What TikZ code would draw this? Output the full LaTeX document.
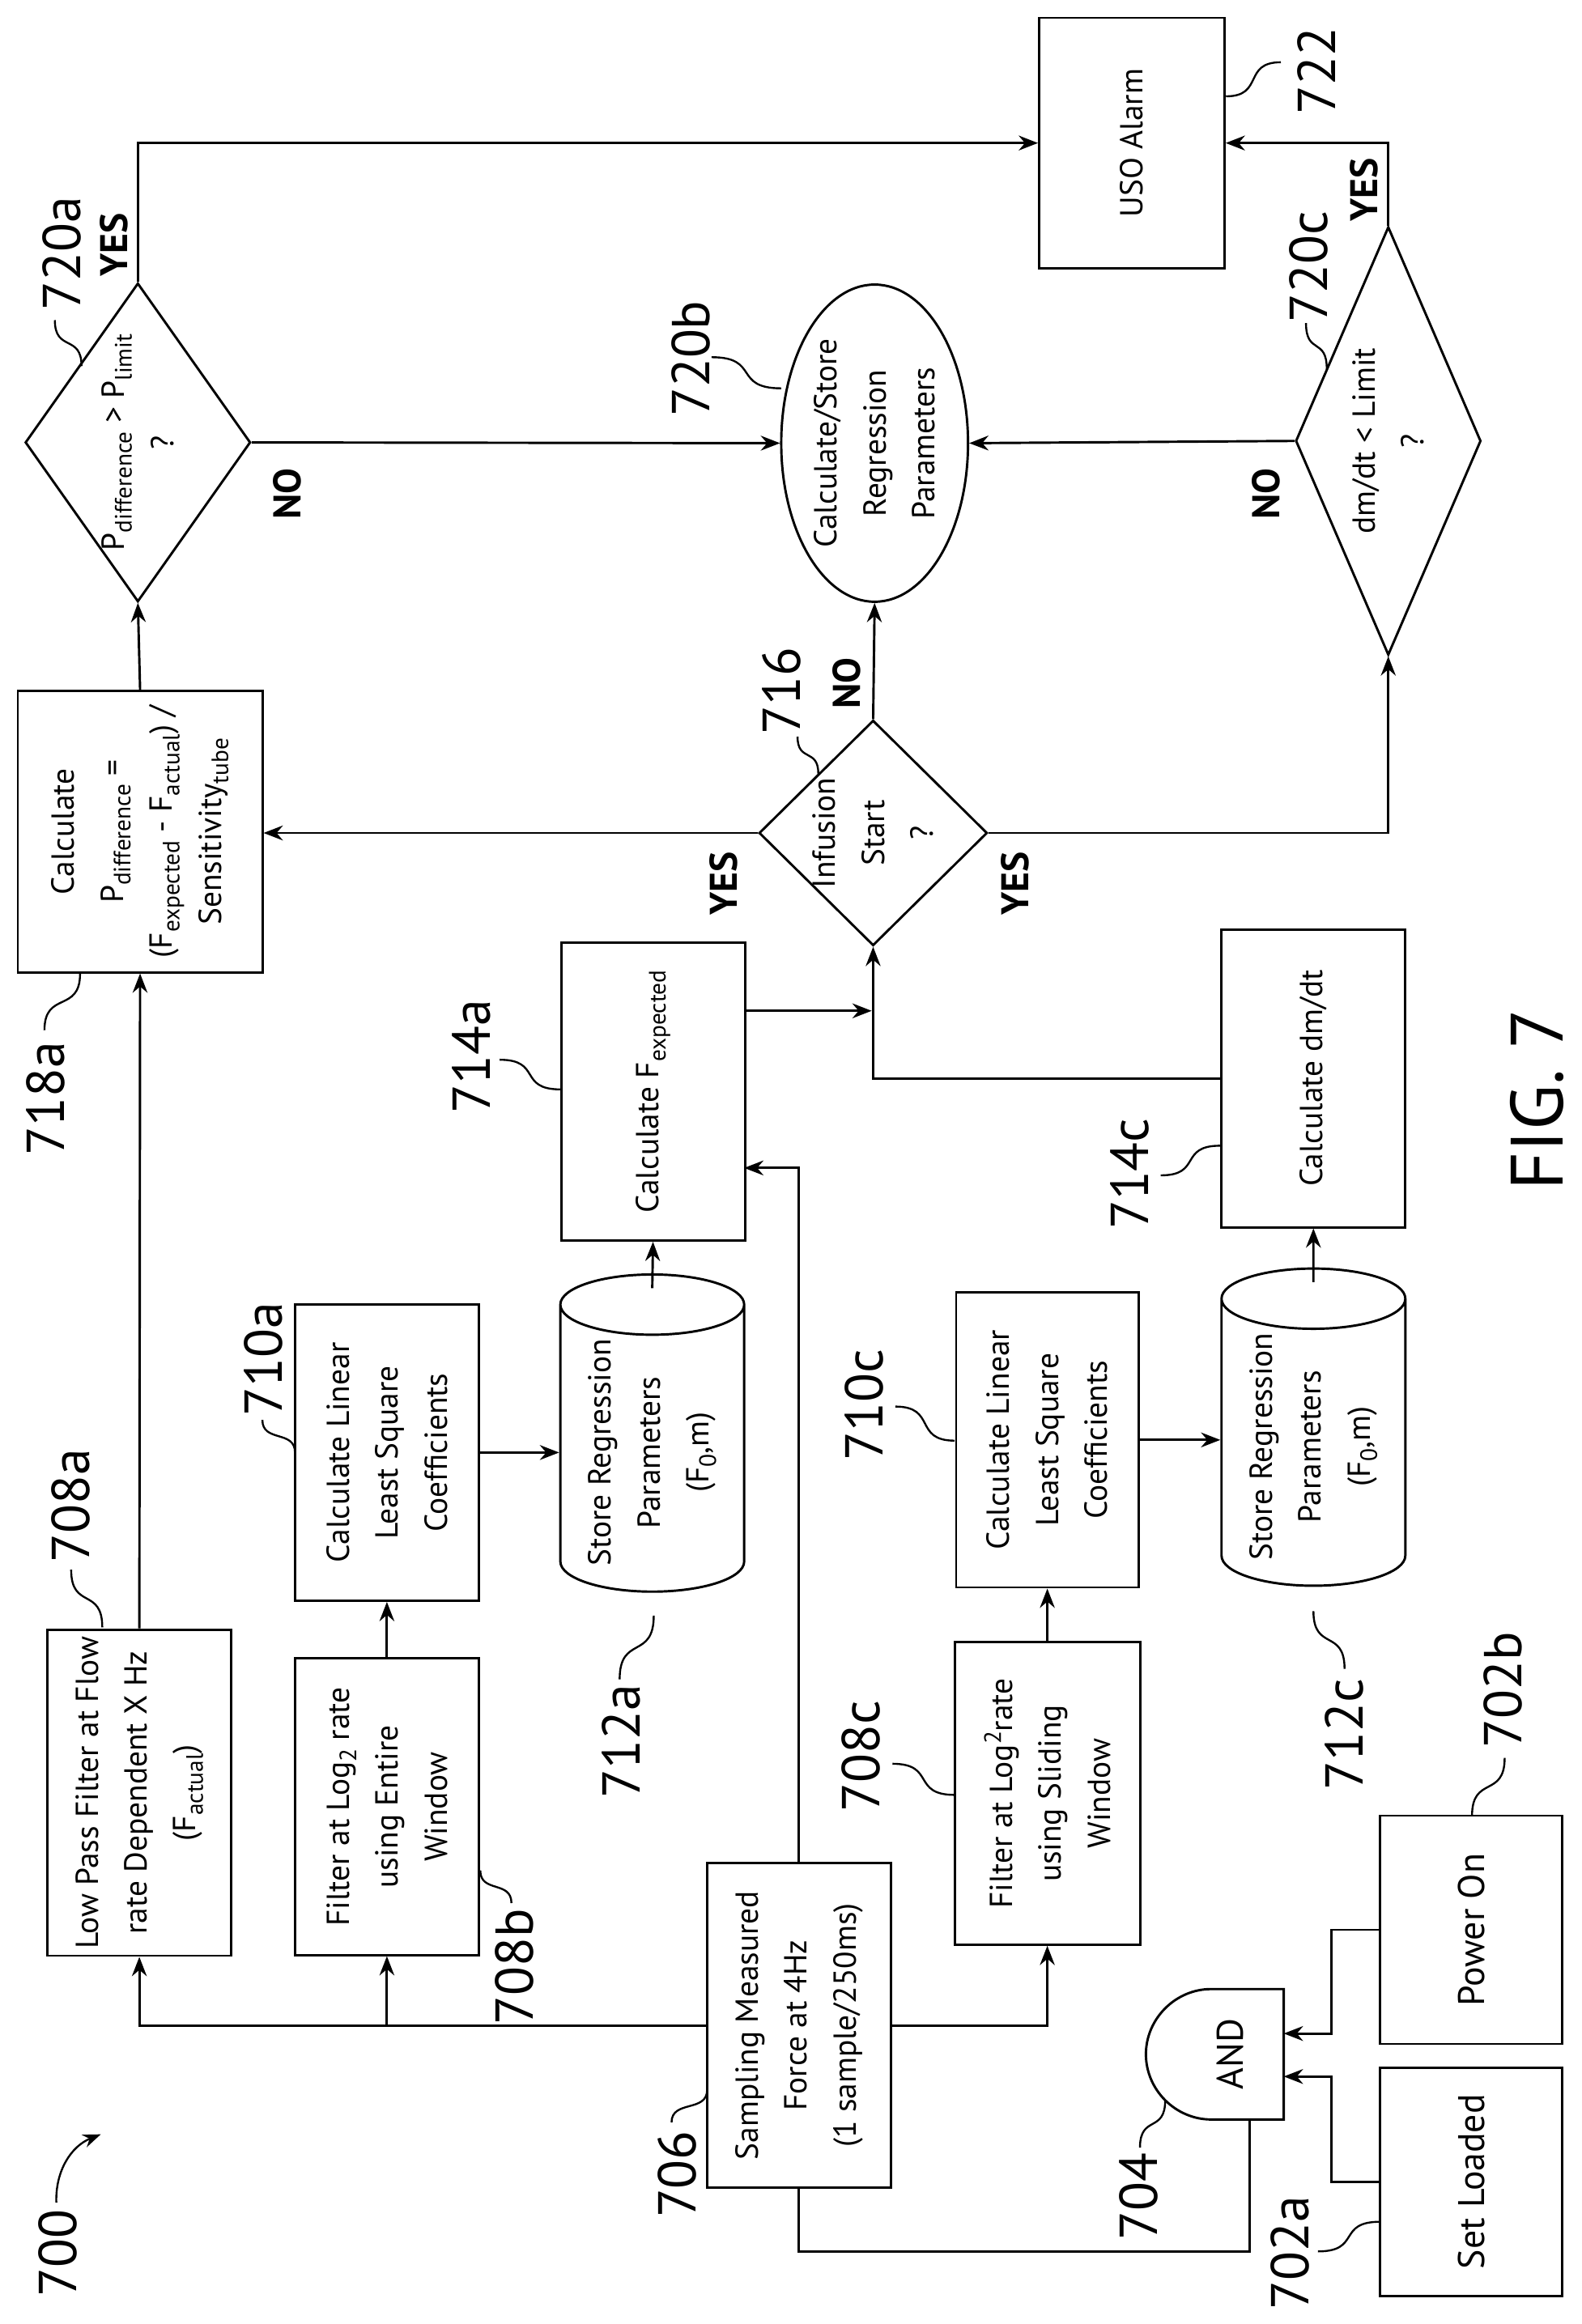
\documentclass[tikz,border=0pt]{standalone}
\usepackage{fontspec}
\setmainfont{PT Sans}
\usetikzlibrary{shapes.geometric,arrows.meta,calc}
\newcommand\dn[1]{\raisebox{-0.45ex}{\fontsize{16}{16}\selectfont #1}}
\newcommand\upx[1]{\raisebox{0.7ex}{\fontsize{16}{16}\selectfont #1}}
\newcommand\bx{\fontsize{21.5}{33}\selectfont}
\newcommand\sqv[2]{\draw[lead] (#1) .. controls ($(#1)!.7!(#1|-#2)$) and ($(#2)!.7!(#2|-#1)$) .. (#2);}
\newcommand\sqh[2]{\draw[lead] (#1) .. controls ($(#1)!.7!(#1-|#2)$) and ($(#2)!.7!(#2-|#1)$) .. (#2);}
\begin{document}
\begin{tikzpicture}[x=1pt,y=-1pt,
  box/.style={draw,line width=1.6pt,rotate=90,font=\bx,align=center,inner sep=2pt},
  cyl/.style={draw,line width=1.6pt,rotate=90,font=\bx,align=center,shape=cylinder,shape aspect=0.45,inner sep=2pt},
  dia/.style={draw,line width=1.6pt,rotate=90,shape=diamond,inner sep=0pt},
  txt/.style={rotate=90,font=\bx,align=center},
  lbl/.style={rotate=90,font=\fontsize{36}{36}\selectfont},
  yn/.style={rotate=90,font=\fontsize{26}{26}\selectfont\bfseries},
  arr/.style={line width=1.6pt,-{Stealth[length=13pt,width=10pt]}},
  ln/.style={line width=1.6pt},
  lead/.style={line width=1.3pt}]
\useasboundingbox (0,0) rectangle (1067,1568);
% boxes
\node[box,minimum width=154,minimum height=123,font=\fontsize{25}{28}\selectfont] (sl) at (992.5,1472) {Set Loaded};
\node[box,minimum width=154,minimum height=123,font=\fontsize{25}{28}\selectfont] (po) at (992.5,1302) {Power On};
\node[box,minimum width=219,minimum height=124] (smp) at (539,1366.5) {Sampling Measured\\Force at 4Hz\\(1 sample/250ms)};
\node[box,minimum width=220,minimum height=124] (lp) at (94,1209.5) {Low Pass Filter at Flow\\rate Dependent X Hz\\(F\dn{actual})};
\node[box,minimum width=200,minimum height=124] (f8b) at (261,1219) {Filter at Log\dn{2} rate\\using Entire\\Window};
\node[box,minimum width=200,minimum height=124] (c10a) at (261,980) {Calculate Linear\\Least Square\\Coefficients};
\node[cyl,minimum width=124,minimum height=206] (st12a) at (440,980) {Store Regression\\Parameters\\(F\dn{0},m)};
\node[box,minimum width=201,minimum height=124] (fe) at (440.5,736.5) {Calculate F\dn{expected}};
\node[box,minimum width=190,minimum height=165] (cp) at (94.5,561) {Calculate\\P\dn{difference} =\\(F\dn{expected} - F\dn{actual}) /\\Sensitivity\dn{tube}};
\node[box,minimum width=204,minimum height=125] (f8c) at (706.5,1210) {Filter at Log\upx{2}rate\\using Sliding\\Window};
\node[box,minimum width=199,minimum height=123] (c10c) at (706.5,971.5) {Calculate Linear\\Least Square\\Coefficients};
\node[cyl,minimum width=124,minimum height=206] (st12c) at (886,976) {Store Regression\\Parameters\\(F\dn{0},m)};
\node[box,minimum width=201,minimum height=124] (dm) at (886,727.5) {Calculate dm/dt};
\node[box,minimum width=169,minimum height=125] (uso) at (763.5,96.5) {USO Alarm};
\node[box,shape=ellipse,minimum width=214,minimum height=126,inner sep=0pt] (e720b) at (590,299) {Calculate/Store\\Regression\\Parameters};
% diamonds
\node[dia,minimum width=152,minimum height=154] (d716) at (589,562) {};
\node[txt] at (d716) {Infusion\\Start\\?};
\node[dia,minimum width=215,minimum height=152] (d720a) at (93,298.5) {};
\node[txt] at (d720a) {P\dn{difference} > P\dn{limit}\\?};
\node[dia,minimum width=289,minimum height=125] (d720c) at (936.5,297.5) {};
\node[txt] at (d720c) {dm/dt < Limit\\?};
% AND gate
\draw[ln] (866,1342) -- (817,1342) .. controls (793,1342) and (773,1362) .. (773,1386) .. controls (773,1410) and (793,1430) .. (817,1430) -- (866,1430) -- cycle;
\node[rotate=90,font=\fontsize{25}{28}\selectfont] (and) at (830,1386) {AND};
\coordinate (andin1) at (866,1401);
\coordinate (andin2) at (866,1372);
\coordinate (andout) at (843,1430);
\coordinate (feIn) at (502,788);
\coordinate (j1) at (588,682);
% connectors
\draw[arr] (sl.north) -- ++(-32,0) |- (andin1);
\draw[arr] (po.north) -- ++(-32,0) |- (andin2);
\draw[ln] (andout) -- ++(0,89) -| (smp.west);
\draw[arr] (smp.north) -| (lp.west);
\draw[arr] (smp.north) -| (f8b.west);
\draw[arr] (smp.south) -| (f8c.west);
\draw[arr] (smp.east) |- (feIn);
\draw[arr] (lp.east) -- (cp.west);
\draw[arr] (f8b.east) -- (c10a.west);
\draw[arr] (c10a.south) -- (c10a.south -| st12a.north);
\draw[arr] ($(st12a.east)+(0,10)$) -- (fe.west);
\draw[arr] (fe.south |- j1) -- (j1);
\draw[arr] (dm.north) -| (d716.west);
\draw[arr] (d716.north) -- (d716.north -| cp.south);
\draw[arr] (d716.south) -| (d720c.west);
\draw[arr] (d716.east) -- (e720b.west);
\draw[arr] (cp.east) -- (d720a.west);
\draw[arr] (d720a.east) |- (uso.north);
\draw[arr] (d720a.south) -- (e720b.north);
\draw[arr] (d720c.north) -- (e720b.south);
\draw[arr] (d720c.east) |- (uso.south);
\draw[arr] (f8c.east) -- (c10c.west);
\draw[arr] (c10c.south) -- (c10c.south -| st12c.north);
\draw[arr] ($(st12c.east)+(0,10)$) -- (dm.west);
% labels
\node[lbl] (l700) at (39,1520) {700};
\coordinate (a700) at (38,1486);
\coordinate (b700) at (68,1440);
\draw[lead,-{Stealth[length=12pt,width=9pt]}] (a700) to[bend left=35] (b700);
\node[lbl] (l708a) at (48,1016) {708a};
\node[lbl] (l710a) at (178,917) {710a};
\node[lbl] (l718a) at (31,741) {718a};
\node[lbl] (l714a) at (318,713) {714a};
\node[lbl] (l712a) at (419,1175) {712a};
\node[lbl] (l708b) at (347,1327) {708b};
\node[lbl] (l706) at (457,1467) {706};
\node[lbl] (l708c) at (581,1185) {708c};
\node[lbl] (l710c) at (583,948) {710c};
\node[lbl] (l714c) at (762,792) {714c};
\node[lbl] (l712c) at (907,1170) {712c};
\node[lbl] (l704) at (768,1482) {704};
\node[lbl] (l702a) at (870,1520) {702a};
\node[lbl] (l702b) at (1014,1140) {702b};
\node[lbl] (l720a) at (42,171) {720a};
\node[lbl] (l720b) at (466,242) {720b};
\node[lbl] (l716) at (527,466) {716};
\node[lbl] (l720c) at (883,180) {720c};
\node[lbl] (l722) at (888,48) {722};
\node[rotate=90,font=\fontsize{50}{50}\selectfont] (fig) at (1037,742) {FIG. 7};
\node[yn] (y1) at (77,165) {YES};
\node[yn] (n1) at (194,333) {NO};
\node[yn] (n2) at (571,461) {NO};
\node[yn] (y2) at (488,596) {YES};
\node[yn] (y3) at (685,596) {YES};
\node[yn] (y4) at (920,128) {YES};
\node[yn] (n3) at (854,333) {NO};
% leaders
\coordinate (a1) at (48,1059); \coordinate (b1) at (69,1098); \sqv{a1}{b1}
\coordinate (a2) at (177,958); \coordinate (b2) at (199,980); \sqv{a2}{b2}
\coordinate (a3) at (30,695); \coordinate (b3) at (54,657); \sqv{a3}{b3}
\coordinate (a4) at (337,715); \coordinate (b4) at (378,735); \sqh{a4}{b4}
\coordinate (a5) at (418,1133); \coordinate (b5) at (441,1090); \sqv{a5}{b5}
\coordinate (a6) at (345,1284); \coordinate (b6) at (324,1262); \sqv{a6}{b6}
\coordinate (a7) at (453,1432); \coordinate (b7) at (477,1410); \sqv{a7}{b7}
\coordinate (a8) at (602,1190); \coordinate (b8) at (644,1211); \sqh{a8}{b8}
\coordinate (a9) at (604,949); \coordinate (b9) at (644,972); \sqh{a9}{b9}
\coordinate (a10) at (783,793); \coordinate (b10) at (823,773); \sqh{a10}{b10}
\coordinate (a11) at (907,1126); \coordinate (b11) at (886,1087); \sqv{a11}{b11}
\coordinate (a12) at (769,1449); \coordinate (b12) at (786,1417); \sqv{a12}{b12}
\coordinate (a13) at (889,1519); \coordinate (b13) at (931,1499); \sqh{a13}{b13}
\coordinate (a14) at (1015,1186); \coordinate (b14) at (993,1225); \sqv{a14}{b14}
\coordinate (a15) at (37,216); \coordinate (b15) at (55,247); \sqv{a15}{b15}
\coordinate (a16) at (480,241); \coordinate (b16) at (527,262); \sqh{a16}{b16}
\coordinate (a17) at (538,497); \coordinate (b17) at (552,522); \sqv{a17}{b17}
\coordinate (a18) at (881,218); \coordinate (b18) at (895,249); \sqv{a18}{b18}
\coordinate (a19) at (827,65); \coordinate (b19) at (864,42); \sqh{a19}{b19}
\end{tikzpicture}
\end{document}
